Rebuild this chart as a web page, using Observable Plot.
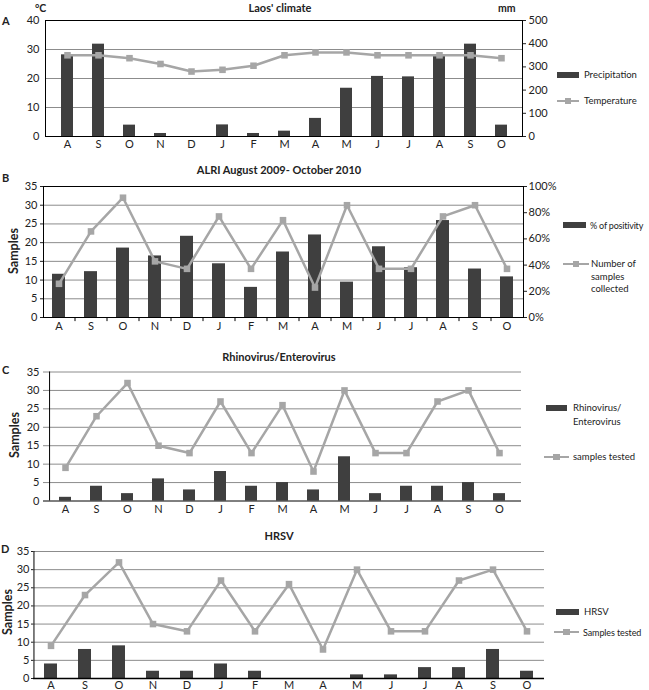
<!DOCTYPE html>
<html><head><meta charset="utf-8">
<script src="https://cdn.jsdelivr.net/npm/d3@7"></script>
<script src="https://cdn.jsdelivr.net/npm/@observablehq/plot@0.6"></script>
<style>
body{margin:0;background:#fff;}
#c{position:relative;width:649px;height:690px;overflow:hidden;font-family:Lato,sans-serif;color:#222;background:#fff;}
.t{position:absolute;white-space:nowrap;line-height:1;}
</style></head><body><div id="c"></div>
<script>
const months = ["A","S","O","N","D","J","F","M","A","M","J","J","A","S","O"];
// Panel A: Laos' climate
const precipitation = [352,398,49,13,0,50,13,23,78,208,259,257,346,398,49]; // mm
const temperature = [28,28,27,25,22.4,23,24.4,28,29,29,28,28,28,28,27];   // °C
// Panel B: ALRI
const positivity = [33,35,53,47,62,41,23,50,63,27,54,38,74,37,31];          // %
const samplesCollected = [9,23,32,15,13,27,13,26,8,30,13,13,27,30,13];
// Panel C: Rhinovirus/Enterovirus
const rhinoEntero = [1,4,2,6,3,8,4,5,3,12,2,4,4,5,2];
const samplesTestedC = [9,23,32,15,13,27,13,26,8,30,13,13,27,30,13];
// Panel D: HRSV
const hrsv = [4,8,9,2,2,4,2,0,0,1,1,3,3,8,2];
const samplesTestedD = [9,23,32,15,13,27,13,26,8,30,13,13,27,30,13];

const leftTicksA = [0,10,20,30,40];
const rightTicksA = [0,100,200,300,400,500];
const leftTicks = [0,5,10,15,20,25,30,35];
const rightTicksB = [0,20,40,60,80,100];

const C = document.getElementById("c");
const BAR = "#3f3f3f", LINE = "#a6a6a6", GRID = "#8c8c8c", FONT = "Lato, sans-serif";
const idx = d3.range(months.length);

function place(svg, top) {
  svg.style.position = "absolute"; svg.style.left = "0px"; svg.style.top = top + "px";
  C.appendChild(svg);
}
function text(s, x, y, {anchor = "middle", size = 10, bold = false, rotate = false, ls = 0} = {}) {
  const d = document.createElement("div");
  d.className = "t"; d.textContent = s;
  d.style.left = x + "px"; d.style.top = y + "px";
  d.style.fontSize = size + "px"; d.style.fontWeight = bold ? "700" : "400";
  if (ls) d.style.letterSpacing = ls + "px";
  let tr = anchor === "middle" ? "translate(-50%,-50%)" : "translate(0,-50%)";
  if (rotate) tr += " rotate(-90deg)";
  d.style.transform = tr;
  C.appendChild(d);
}
function swatch(x1, x2, y, h = 6) {
  const d = document.createElement("div");
  Object.assign(d.style, {position:"absolute", left:x1+"px", top:(y-h/2)+"px", width:(x2-x1)+"px", height:h+"px", background:BAR});
  C.appendChild(d);
}
function lineKey(x1, x2, y) {
  const d = document.createElement("div");
  Object.assign(d.style, {position:"absolute", left:x1+"px", top:(y-1.25)+"px", width:(x2-x1)+"px", height:"2.5px", background:LINE});
  C.appendChild(d);
  const s = document.createElement("div");
  const c = (x1 + x2) / 2;
  Object.assign(s.style, {position:"absolute", left:(c-3.25)+"px", top:(y-3.25)+"px", width:"6.5px", height:"6.5px", background:LINE});
  C.appendChild(s);
}
function xScale(pi) {
  return {type:"band", domain:idx, paddingInner:pi, paddingOuter:pi/2, axis:null};
}
const style = {fontFamily:FONT, fontSize:"10px", color:"#222", background:"transparent", overflow:"visible"};
const LEG = 9.5;

// ---------- Panel A ----------
{
  const top = 10, pTop = 20, pBot = 136, L = 45, R = 522;
  const h = pBot - top + 18;
  const k = 40 / 500;
  place(Plot.plot({
    width:649, height:h, marginTop:pTop-top, marginBottom:h-(pBot-top), marginLeft:L, marginRight:649-R,
    style, x:xScale(0.62), y:{domain:[0,40], axis:null},
    marks:[
      Plot.ruleY([10,20,30], {stroke:GRID}),
      Plot.barY(idx, {x:i=>i, y:i=>precipitation[i]*k, fill:BAR}),
      Plot.line(idx, {x:i=>i, y:i=>temperature[i], stroke:LINE, strokeWidth:2.5}),
      Plot.dot(idx, {x:i=>i, y:i=>temperature[i], symbol:"square", r:3.7, fill:LINE}),
      Plot.frame({stroke:"#000"}),
      Plot.axisY(leftTicksA, {tickSize:0, tickPadding:6, label:null, fontSize:11}),
      Plot.axisY(rightTicksA, {anchor:"right", y:d=>d*k, tickFormat:d=>d, tickSize:3, tickPadding:3, label:null, fontSize:11}),
      Plot.axisX({tickFormat:i=>months[i], tickSize:0, tickPadding:4, label:null, fontSize:11})
    ]
  }), top);
  text("Laos' climate", 280, 7, {size:11, bold:true});
  text("°C", 35, 8, {anchor:"start", size:10.5, bold:true});
  text("mm", 498, 8, {anchor:"start", size:10.5, bold:true});
  text("A", 2, 20, {anchor:"start", size:11, bold:true});
  swatch(557, 579, 75, 6);
  text("Precipitation", 584, 75, {anchor:"start", size:LEG});
  lineKey(557, 579, 101);
  text("Temperature", 584, 101, {anchor:"start", size:LEG});
}

// ---------- Panel B ----------
{
  const top = 176, pTop = 186, pBot = 317, L = 43, R = 523;
  const h = pBot - top + 18;
  const k = 35 / 100;
  const step = (R - L) / 15;
  place(Plot.plot({
    width:649, height:h, marginTop:pTop-top, marginBottom:h-(pBot-top), marginLeft:L, marginRight:649-R,
    style, x:xScale(0.58), y:{domain:[0,35], axis:null},
    marks:[
      Plot.ruleY([5,10,15,20,25,30], {stroke:GRID}),
      Plot.barY(idx, {x:i=>i, y:i=>positivity[i]*k, fill:BAR}),
      Plot.line(idx, {x:i=>i, y:i=>samplesCollected[i], stroke:LINE, strokeWidth:2.5}),
      Plot.dot(idx, {x:i=>i, y:i=>samplesCollected[i], symbol:"square", r:3.7, fill:LINE}),
      Plot.ruleX(idx.slice(1), {x:i=>i, dx:-step/2, y1:0, y2:-1.1, stroke:"#000"}),
      Plot.frame({stroke:"#000"}),
      Plot.axisY(leftTicks, {tickSize:3, tickPadding:3, label:null, fontSize:11}),
      Plot.axisY(rightTicksB, {anchor:"right", y:d=>d*k, tickFormat:d=>d+"%", tickSize:3, tickPadding:2, label:null, fontSize:11}),
      Plot.axisX({tickFormat:i=>months[i], tickSize:0, tickPadding:5, label:null, fontSize:11})
    ]
  }), top);
  text("ALRI August 2009- October 2010", 279, 169, {size:11, bold:true});
  text("B", 2, 177, {anchor:"start", size:11, bold:true});
  text("Samples", 14, 251, {size:12.5, bold:true, rotate:true});
  swatch(563, 586, 225, 6);
  text("% of positivity", 590, 225, {anchor:"start", size:9, ls:-0.2});
  lineKey(563, 589, 264);
  text("Number of", 591, 264, {anchor:"start", size:LEG});
  text("samples", 591, 277, {anchor:"start", size:LEG});
  text("collected", 591, 289, {anchor:"start", size:LEG});
}

// ---------- Panel C ----------
{
  const top = 361, pTop = 371.5, pBot = 500.5, L = 43, R = 521;
  const h = pBot - top + 18;
  const step = (R - L) / 15;
  place(Plot.plot({
    width:649, height:h, marginTop:pTop-top, marginBottom:h-(pBot-top), marginLeft:L, marginRight:649-R,
    style, x:xScale(0.615), y:{domain:[0,35], axis:null},
    marks:[
      Plot.ruleY([5,10,15,20,25,30,35], {stroke:GRID}),
      Plot.barY(idx, {x:i=>i, y:i=>rhinoEntero[i], fill:BAR}),
      Plot.line(idx, {x:i=>i, y:i=>samplesTestedC[i], stroke:LINE, strokeWidth:2.5}),
      Plot.dot(idx, {x:i=>i, y:i=>samplesTestedC[i], symbol:"square", r:3.7, fill:LINE}),
      Plot.ruleY([0], {stroke:"#000"}),
      Plot.ruleX([0], {x:i=>i, dx:-step/2, stroke:"#000"}),
      Plot.axisY(leftTicks, {tickSize:0, tickPadding:4, label:null, fontSize:11}),
      Plot.axisX({tickFormat:i=>months[i], tickSize:0, tickPadding:4, label:null, fontSize:11})
    ]
  }), top);
  text("Rhinovirus/Enterovirus", 279, 356, {size:11, bold:true});
  text("C", 2, 369, {anchor:"start", size:11, bold:true});
  text("Samples", 15, 435, {size:12.5, bold:true, rotate:true});
  swatch(546, 567, 408, 6);
  text("Rhinovirus/", 573, 408, {anchor:"start", size:LEG});
  text("Enterovirus", 573, 422, {anchor:"start", size:LEG});
  lineKey(544, 569, 457);
  text("samples tested", 573, 457, {anchor:"start", size:LEG});
}

// ---------- Panel D ----------
{
  const top = 541, pTop = 551, pBot = 678, L = 33, R = 544;
  const h = pBot - top + 18;
  const step = (R - L) / 15;
  place(Plot.plot({
    width:649, height:h, marginTop:pTop-top, marginBottom:h-(pBot-top), marginLeft:L, marginRight:649-R,
    style, x:xScale(0.61), y:{domain:[0,35], axis:null},
    marks:[
      Plot.ruleY([5,10,15,20,25,30,35], {stroke:GRID}),
      Plot.barY(idx, {x:i=>i, y:i=>hrsv[i], fill:BAR}),
      Plot.line(idx, {x:i=>i, y:i=>samplesTestedD[i], stroke:LINE, strokeWidth:2.5}),
      Plot.dot(idx, {x:i=>i, y:i=>samplesTestedD[i], symbol:"square", r:3.7, fill:LINE}),
      Plot.ruleY([0], {stroke:"#000", strokeWidth:1.5}),
      Plot.ruleX([0], {x:i=>i, dx:-step/2, stroke:"#000"}),
      Plot.axisY(leftTicks, {tickSize:2, tickPadding:2, label:null, fontSize:11}),
      Plot.axisX({tickFormat:i=>months[i], tickSize:0, tickPadding:3, label:null, fontSize:11})
    ]
  }), top);
  text("HRSV", 279, 535, {size:11, bold:true});
  text("D", 1, 548, {anchor:"start", size:11, bold:true});
  text("Samples", 8, 612, {size:12.5, bold:true, rotate:true});
  swatch(556, 579, 612, 6);
  text("HRSV", 584, 612, {anchor:"start", size:LEG});
  lineKey(554, 579, 632);
  text("Samples tested", 583, 632, {anchor:"start", size:9, ls:-0.1});
}
</script></body></html>
